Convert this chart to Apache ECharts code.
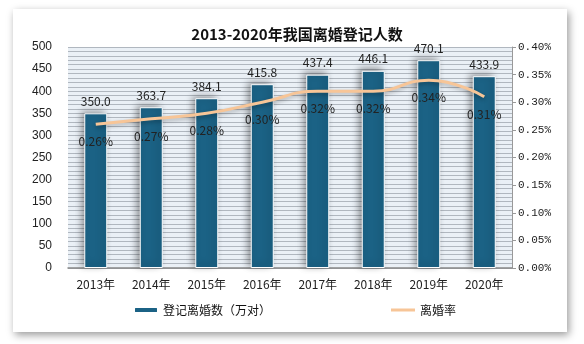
<!DOCTYPE html>
<html><head><meta charset="utf-8">
<script src="https://cdn.jsdelivr.net/npm/echarts@6/dist/echarts.min.js"></script>
<style>html,body{margin:0;padding:0;background:#fff}#c{width:584px;height:344px}</style>
</head><body><div id="c"></div>
<script>
const categories = ['2013年','2014年','2015年','2016年','2017年','2018年','2019年','2020年'];
const divorces = [350.0, 363.7, 384.1, 415.8, 437.4, 446.1, 470.1, 433.9];
const divorceRate = [0.26, 0.27, 0.28, 0.30, 0.32, 0.32, 0.34, 0.31];
const barName = '登记离婚数（万对）';
const lineName = '离婚率';
const titleText = '2013-2020年我国离婚登记人数';

const chart = echarts.init(document.getElementById('c'));
const cjk = '"Noto Sans CJK SC", sans-serif';
chart.setOption({
  backgroundColor: '#fff',
  animation: false,
  graphic: [{
    type: 'rect', z: -10,
    shape: {x: 13, y: 9, width: 554, height: 323},
    style: {fill: '#fff', shadowBlur: 8, shadowColor: 'rgba(0,0,0,0.4)', shadowOffsetX: 2, shadowOffsetY: 3}
  }],
  title: {
    text: titleText, left: 292, textAlign: 'center', top: 22,
    textStyle: {fontFamily: cjk, fontSize: 15, fontWeight: 'bold', color: '#111'}
  },
  legend: [{
    data: [barName], left: 128, top: 299, itemWidth: 24, itemHeight: 6, itemGap: 4,
    textStyle: {fontFamily: cjk, fontSize: 12, color: '#111'}
  }, {
    data: [{name: lineName, icon: 'rect', itemStyle: {color: '#f7c597'}}], left: 386, top: 299, itemWidth: 24, itemHeight: 3,
    textStyle: {fontFamily: cjk, fontSize: 12, color: '#111'}
  }],
  grid: {left: 68, right: 72, top: 47, bottom: 76, show: true, backgroundColor: '#eaf0f6', borderWidth: 0},
  xAxis: {
    type: 'category', data: categories,
    axisLine: {lineStyle: {color: '#888', width: 1.5}},
    axisTick: {show: false},
    axisLabel: {fontFamily: cjk, fontSize: 12, color: '#222', margin: 10}
  },
  yAxis: [{
    type: 'value', min: 0, max: 500, interval: 50,
    axisLine: {show: false}, axisTick: {show: false},
    axisLabel: {fontFamily: '"Liberation Sans", Arial, sans-serif', fontSize: 12, color: '#222', margin: 16},
    splitLine: {lineStyle: {color: '#b0b7bf', width: 1}},
    minorTick: {show: false, splitNumber: 5},
    minorSplitLine: {show: true, lineStyle: {color: '#b0b7bf', width: 1}}
  }, {
    type: 'value', min: 0, max: 0.4, interval: 0.05,
    axisLine: {show: true, lineStyle: {color: '#999'}},
    axisTick: {show: true, length: 4, lineStyle: {color: '#999'}},
    splitLine: {show: false},
    axisLabel: {fontFamily: '"Liberation Mono", monospace', fontSize: 11, color: '#222', margin: 6,
      formatter: v => v.toFixed(2) + '%'}
  }],
  series: [{
    name: barName, type: 'bar', data: divorces, barWidth: 23,
    itemStyle: {color: '#1b6285', borderColor: '#fff', borderWidth: 1,
      shadowBlur: 7, shadowColor: 'rgba(0,0,0,0.4)', shadowOffsetX: -3, shadowOffsetY: -2},
    label: {show: true, position: 'top', distance: 6, formatter: p => p.value.toFixed(1),
      fontFamily: cjk, fontSize: 12, color: '#222'}
  }, {
    name: lineName, type: 'line', yAxisIndex: 1, data: divorceRate, smooth: true,
    symbol: 'circle', symbolSize: 1, showSymbol: true, z: 3,
    lineStyle: {color: '#f7c597', width: 3, shadowBlur: 4, shadowColor: 'rgba(0,0,0,0.3)', shadowOffsetY: 2},
    itemStyle: {color: 'rgba(247,197,151,0)'},
    label: {show: true, position: 'bottom', distance: 11, formatter: p => p.value.toFixed(2) + '%',
      fontFamily: cjk, fontSize: 12, color: '#222'}
  }]
});
</script></body></html>
